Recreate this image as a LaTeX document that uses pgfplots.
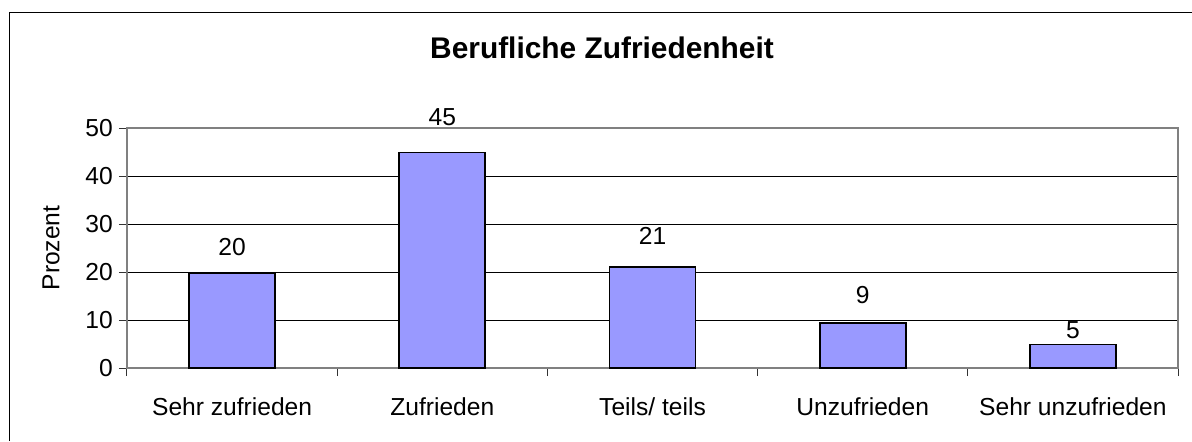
\documentclass[border=0pt]{standalone}
\usepackage{fontspec}
\setmainfont{Liberation Sans}
\usepackage{pgfplots}
\pgfplotsset{compat=1.18}
\definecolor{barfill}{HTML}{9999FF}
\definecolor{axgray}{HTML}{808080}
\begin{document}
\begin{tikzpicture}
\useasboundingbox (0mm,0mm) rectangle (238.4mm,88.2mm);
\draw[line width=0.3mm] (1.9mm,0mm) -- (1.9mm,85.7mm) -- (238.4mm,85.7mm);
\node[font=\fontsize{17}{20}\selectfont\bfseries, anchor=base] at (120.4mm,76.6mm) {Berufliche Zufriedenheit};
\begin{axis}[
  at={(25.4mm,14.6mm)}, anchor=south west,
  scale only axis, width=210.2mm, height=48mm,
  xmin=-0.5, xmax=4.5, ymin=0, ymax=50,
  xtick={-0.5,0.5,...,4.5},
  x tick label as interval,
  xticklabels={Sehr zufrieden, Zufrieden, Teils/ teils, Unzufrieden, Sehr unzufrieden},
  ytick={0,10,...,50},
  tick align=outside, xtick pos=bottom, ytick pos=left,
  major tick length=1.6mm,
  tick style={black!80, line width=0.2mm},
  ymajorgrids, grid style={black, line width=0.2mm},
  axis line style={axgray, line width=0.4mm},
  clip=false,
  /pgf/number format/assume math mode=true,
  ticklabel style={font=\fontsize{14}{16}\selectfont},
  yticklabel style={anchor=east},
  xticklabel style={anchor=base, yshift=-7.9mm},
  every axis y label/.style={at={(rel axis cs:0,0.5)}, anchor=center, xshift=-15.2mm, rotate=90, font=\fontsize{14}{16}\selectfont},
  ylabel={Prozent},
]
\addplot[ybar, bar width=17.2mm, fill=barfill, draw=black, line width=0.35mm]
  coordinates {(0,19.7) (1,44.9) (2,21.1) (3,9.3) (4,4.9)};
\addplot[draw=none, mark=none, nodes near coords, point meta=explicit symbolic,
  every node near coord/.style={anchor=center, font=\fontsize{14}{16}\selectfont, inner sep=0pt}]
  coordinates {(0,25.3)[20] (1,52.3)[45] (2,27.6)[21] (3,15.2)[9] (4,7.9)[5]};
\end{axis}
\end{tikzpicture}
\end{document}
